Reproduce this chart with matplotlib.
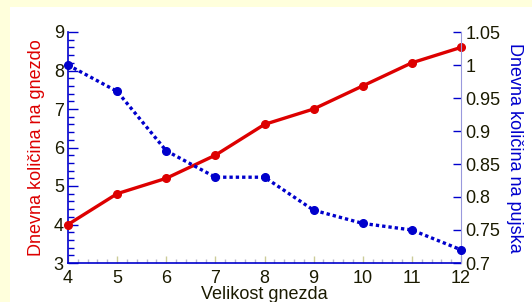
import numpy as np
import matplotlib.pyplot as plt
from matplotlib.ticker import MultipleLocator

plt.rcParams['font.family'] = ['Liberation Sans', 'DejaVu Sans']

#--- data
velikost = [4, 5, 6, 7, 8, 9, 10, 11, 12]
na_gnezdo = [4.0, 4.8, 5.2, 5.8, 6.6, 7.0, 7.6, 8.2, 8.6]
na_pujska = [1.0, 0.96, 0.87, 0.83, 0.83, 0.78, 0.76, 0.75, 0.72]

red = '#dd0000'
blue = '#0000cc'
txt = '#1a1a00'

fig = plt.figure(figsize=(5.32, 3.02), dpi=100)
fig.patch.set_facecolor('#ffffdc')
# white panel
fig.patches.append(plt.Rectangle((10 / 532, 0), 1, 1 - 7 / 302, transform=fig.transFigure,
                                 facecolor='white', edgecolor='none', zorder=-10))

ax1 = fig.add_axes([68 / 532, 39 / 302, (461 - 68) / 532, (263 - 32) / 302])
ax1.set_facecolor('none')
ax2 = ax1.twinx()

ax1.plot(velikost, na_gnezdo, color=red, lw=2.4, marker='o', ms=5.5, zorder=3, clip_on=False)
ax2.plot(velikost, na_pujska, color=blue, lw=2.4, ls=(0, (1, 0.9)), marker='o', ms=5.5,
         zorder=3, clip_on=False)

ax1.set_xlim(4, 12)
ax1.set_ylim(3, 9)
ax2.set_ylim(0.7, 1.05)

ax1.xaxis.set_major_locator(MultipleLocator(1))
ax1.xaxis.set_minor_locator(MultipleLocator(0.2))
ax1.yaxis.set_major_locator(MultipleLocator(1))
ax1.yaxis.set_minor_locator(MultipleLocator(0.2))
ax2.set_yticks([0.7, 0.75, 0.8, 0.85, 0.9, 0.95, 1.0, 1.05])
ax2.set_yticklabels(['0.7', '0.75', '0.8', '0.85', '0.9', '0.95', '1', '1.05'])

for s in ['top', 'right']:
    ax1.spines[s].set_visible(False)
ax1.spines['left'].set_color(blue)
ax1.spines['bottom'].set_color(blue)
ax1.spines['left'].set_linewidth(1.2)
ax1.spines['bottom'].set_linewidth(1.2)
for s in ['top', 'left', 'bottom']:
    ax2.spines[s].set_visible(False)
ax2.spines['right'].set_color('#9999dd')
ax2.spines['right'].set_linewidth(0.8)

ax1.tick_params(axis='y', which='major', direction='in', length=7, width=1, color=blue,
                labelsize=13, labelcolor=txt, pad=3)
ax1.tick_params(axis='y', which='minor', direction='in', length=4, width=1, color=blue)
ax1.tick_params(axis='x', which='major', direction='in', length=5, width=1, color='#cccc99',
                labelsize=13, labelcolor=txt, pad=5)
ax1.tick_params(axis='x', which='minor', direction='in', length=3, width=1, color='#bbbbcc')
ax2.tick_params(axis='y', which='major', direction='in', length=6, width=1, color=blue,
                labelsize=13, labelcolor=txt, pad=3)

ax1.set_xlabel('Velikost gnezda', fontsize=13, color=txt, labelpad=-1)
ax1.set_ylabel('Dnevna količina na gnezdo', fontsize=13, color=red, labelpad=6)
ax2.set_ylabel('Dnevna količina na pujska', fontsize=13, color=blue, rotation=270, labelpad=16)

fig.savefig('out.png', dpi=100)
